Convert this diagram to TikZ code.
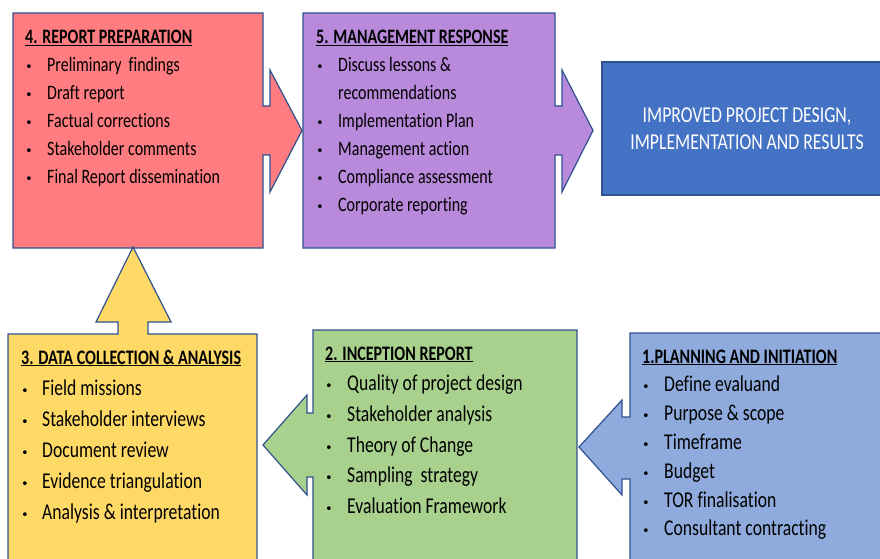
\documentclass[tikz,border=0pt]{standalone}
\usepackage{fontspec}
\setmainfont{Carlito}[FakeStretch=0.78, RawFeature=-liga]
\newfontfamily\symf{DejaVu Sans}
\definecolor{outl}{HTML}{2F528F}
\definecolor{redf}{HTML}{FF7C80}
\definecolor{purf}{HTML}{B98ADB}
\definecolor{bluef}{HTML}{4472C4}
\definecolor{yelf}{HTML}{FFD966}
\definecolor{grnf}{HTML}{A9D18E}
\definecolor{lbluf}{HTML}{8FAADC}
\tikzset{
  callout/.style={draw=outl, line width=1.2pt, line join=miter},
  listtext/.style 2 args={anchor=base west, inner sep=0pt, font=\fontsize{#1}{#2}\selectfont},
}
\newcommand{\hd}[2]{\multicolumn{2}{@{}l@{}}{\fontsize{#1}{10}\selectfont\bfseries\underline{#2}}}
\newcommand{\bul}{{\symf\fontsize{13}{13}\selectfont •}}
\begin{document}
\begin{tikzpicture}[x=1pt,y=-1pt]
\useasboundingbox (0,0) rectangle (880,559);
\clip (0,0) rectangle (880,559);
\fill[white] (0,0) rectangle (880,559);
% 4. report preparation (right arrow callout)
\draw[callout, fill=redf] (13,13) -- (263,13) -- (263,106) -- (270,106) -- (270,70) -- (302,130.5) -- (270,192) -- (270,155) -- (263,155) -- (263,248) -- (13,248) -- cycle;
% 5. management response
\draw[callout, fill=purf] (303,13) -- (555,13) -- (555,106) -- (562,106) -- (562,70) -- (593,130.5) -- (562,192) -- (562,155) -- (555,155) -- (555,248) -- (303,248) -- cycle;
% improved
\draw[callout, fill=bluef] (602,62) rectangle (892,195);
% 3. data collection (up arrow callout)
\draw[callout, fill=yelf] (8,570) -- (8,334) -- (118,334) -- (118,322) -- (96,322) -- (133,247) -- (171,322) -- (148,322) -- (148,334) -- (257,334) -- (257,570) -- cycle;
% 2. inception report (left arrow callout)
\draw[callout, fill=grnf] (313,570) -- (313,477) -- (307,477) -- (307,495) -- (263,445) -- (307,395) -- (307,413) -- (313,413) -- (313,330) -- (577,330) -- (577,570) -- cycle;
% 1. planning and initiation
\draw[callout, fill=lbluf] (630,570) -- (630,479) -- (622,479) -- (622,495) -- (579,447) -- (622,400) -- (622,417) -- (630,417) -- (630,333) -- (892,333) -- (892,570) -- cycle;

\node[listtext={20.5}{28}] (t4) at (25,43.5) {\begin{tabular}[t]{@{}p{22pt}@{}l@{}}
\hd{20.5}{4. REPORT PREPARATION}\\
\bul & Preliminary~ findings\\
\bul & Draft report\\
\bul & Factual corrections\\
\bul & Stakeholder comments\\
\bul & Final Report dissemination
\end{tabular}};

\node[listtext={20.5}{28}] (t5) at (316,43.5) {\begin{tabular}[t]{@{}p{22pt}@{}l@{}}
\hd{20.5}{5. MANAGEMENT RESPONSE}\\
\bul & Discuss lessons \&\\
 & recommendations\\
\bul & Implementation Plan\\
\bul & Management action\\
\bul & Compliance assessment\\
\bul & Corporate reporting
\end{tabular}};

\node[anchor=base, inner sep=0pt, text=white, font=\fontsize{22.7}{28}\selectfont] (tr) at (747,122) {\begin{tabular}[t]{@{}c@{}}
IMPROVED PROJECT DESIGN,\\
IMPLEMENTATION AND RESULTS
\end{tabular}};

\node[listtext={22.6}{31}] (t3) at (21,364) {\begin{tabular}[t]{@{}p{21pt}@{}l@{}}
\hd{20.6}{3. DATA COLLECTION \& ANALYSIS}\\
\bul & Field missions\\
\bul & Stakeholder interviews\\
\bul & Document review\\
\bul & Evidence triangulation\\
\bul & Analysis \& interpretation
\end{tabular}};

\node[listtext={22.6}{30.7}] (t2) at (325,360) {\begin{tabular}[t]{@{}p{22pt}@{}l@{}}
\hd{20.6}{2. INCEPTION REPORT}\\
\bul & Quality of project design\\
\bul & Stakeholder analysis\\
\bul & Theory of Change\\
\bul & Sampling~ strategy\\
\bul & Evaluation Framework
\end{tabular}};

\node[listtext={22.6}{28.8}] (t1) at (642,363) {\begin{tabular}[t]{@{}p{22pt}@{}l@{}}
\hd{20.6}{1.PLANNING AND INITIATION}\\
\bul & Define evaluand\\
\bul & Purpose \& scope\\
\bul & Timeframe\\
\bul & Budget\\
\bul & TOR finalisation\\
\bul & Consultant contracting
\end{tabular}};
\end{tikzpicture}
\end{document}
